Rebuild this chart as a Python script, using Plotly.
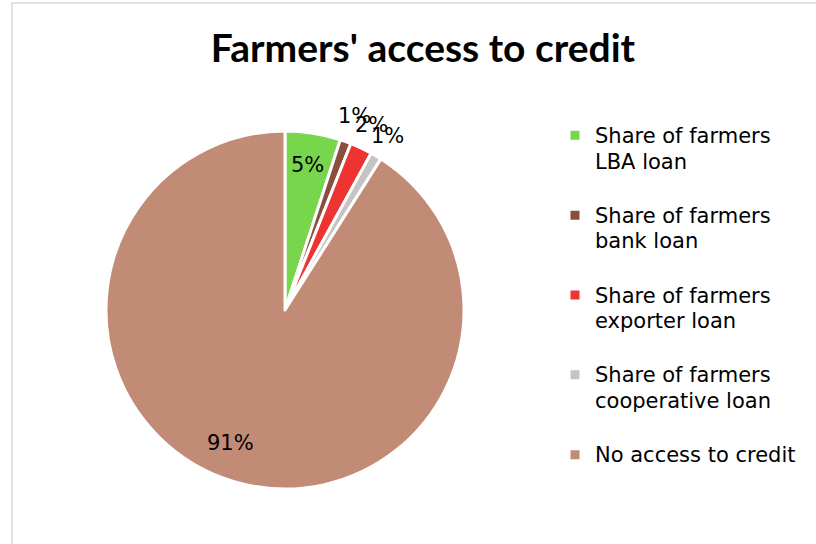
import math
import plotly.graph_objects as go

# Farmers' access to credit, share of farmers by credit source (%)
categories = [
    "Share of farmers LBA loan",
    "Share of farmers bank loan",
    "Share of farmers exporter loan",
    "Share of farmers cooperative loan",
    "No access to credit",
]
legend_labels = [
    "Share of farmers<br>LBA loan",
    "Share of farmers<br>bank loan",
    "Share of farmers<br>exporter loan",
    "Share of farmers<br>cooperative loan",
    "No access to credit",
]
shares = [5, 1, 2, 1, 91]
colors = ["#77D64B", "#8B4E3D", "#EE3333", "#C4C4C4", "#C28B76"]

# Data label distance from the pie centre, as a fraction of the radius
label_radius = [0.82, 1.15, 1.14, 1.13, 0.8]
# Small angular nudge (degrees) of each label from its slice's mid angle
label_turn = [0, 0, 0, 0, 6]

FONT = "DejaVu Sans"
TITLE_FONT = "Lato"
W, H = 816, 544

# Pie geometry in pixels (centre and radius)
CX, CY, R = 285, 310, 179

# Legend entries: 21px text plus a spacer line so entries sit ~80px apart
LEG_BASE = 19.7
legend_text = [
    f"<span style='font-size:21px'>{t}</span><br> " for t in legend_labels
]

fig = go.Figure(
    go.Pie(
        labels=legend_text,
        values=shares,
        customdata=categories,
        sort=False,
        direction="clockwise",
        rotation=0,
        marker=dict(colors=colors, line=dict(color="white", width=3)),
        textinfo="none",
        hovertemplate="%{customdata}: %{value}%<extra></extra>",
        domain=dict(
            x=[(CX - R) / W, (CX + R) / W],
            y=[1 - (CY + R) / H, 1 - (CY - R) / H],
        ),
    )
)

# Percentage labels placed along each slice's mid angle
total = sum(shares)
cum = 0
annotations = []
for v, rf, turn in zip(shares, label_radius, label_turn):
    theta = 2 * math.pi * (cum + v / 2) / total + math.radians(turn)
    cum += v
    px = CX + rf * R * math.sin(theta)
    py = CY - rf * R * math.cos(theta)
    annotations.append(
        dict(
            x=px / W,
            y=1 - py / H,
            xref="paper",
            yref="paper",
            text=f"{round(100 * v / total)}%",
            showarrow=False,
            xanchor="center",
            yanchor="middle",
            font=dict(family=FONT, size=21, color="#000000"),
        )
    )

fig.update_layout(
    width=W,
    height=H,
    margin=dict(l=0, r=0, t=0, b=0),
    paper_bgcolor="white",
    plot_bgcolor="white",
    font=dict(family=FONT, color="#000000"),
    title=dict(
        text="<b>Farmers' access to credit</b>",
        x=423 / W,
        xanchor="center",
        y=1 - 48 / H,
        yanchor="middle",
        font=dict(family=TITLE_FONT, size=39, color="#000000"),
    ),
    legend=dict(
        x=555 / W,
        xanchor="left",
        y=1 - 116 / H,
        yanchor="top",
        valign="top",
        font=dict(family=FONT, size=LEG_BASE, color="#000000"),
        itemclick=False,
        bgcolor="rgba(0,0,0,0)",
    ),
    annotations=annotations,
    shapes=[
        dict(
            type="rect",
            xref="paper",
            yref="paper",
            x0=12 / W,
            x1=1.05,
            y0=-0.05,
            y1=1 - 3 / H,
            line=dict(color="#D9D9D9", width=1.5),
            fillcolor="rgba(0,0,0,0)",
            layer="below",
        )
    ],
)

fig.write_html("out.html")
